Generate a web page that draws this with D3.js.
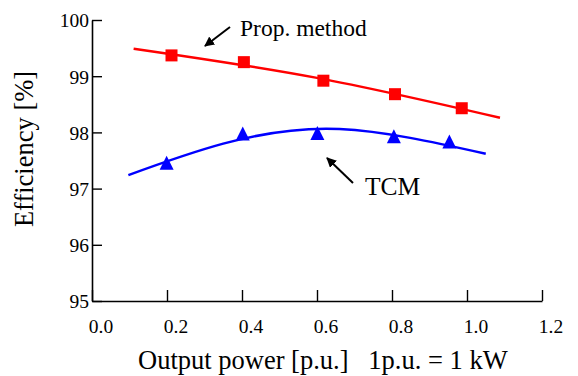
<!DOCTYPE html>
<html>
<head>
<meta charset="utf-8">
<script src="https://cdn.jsdelivr.net/npm/d3@7"></script>
<style>
  html, body { margin: 0; padding: 0; background: #fff; }
  svg { display: block; }
  text { font-family: "Liberation Serif", "Times New Roman", serif !important; fill: #000; white-space: pre; }
</style>
</head>
<body>
<svg id="chart" width="578" height="376"></svg>
<script>
// ---- data ----
const xTicks = [0.0, 0.2, 0.4, 0.6, 0.8, 1.0, 1.2];
const yTicks = [95, 96, 97, 98, 99, 100];

// Proposed method: measured points (squares)
const propX = [0.212, 0.405, 0.617, 0.808, 0.986];
const propY = [99.37, 99.25, 98.92, 98.68, 98.43];
// Proposed method: fitted curve (read at a few positions)
const propFitX = [0.111, 0.6, 1.088];
const propFitY = [99.49, 98.97, 98.26];

// TCM: measured points (triangles)
const tcmX = [0.199, 0.402, 0.601, 0.805, 0.953];
const tcmY = [97.46, 97.98, 97.99, 97.93, 97.84];
// TCM: fitted curve (read at a few positions)
const tcmFitX = [0.097, 0.35, 0.66, 1.05];
const tcmFitY = [97.24, 97.80, 98.06, 97.62];

const xLabel = "Output power [p.u.]   1p.u. = 1 kW";
const yLabel = "Efficiency [%]";
const propLabel = "Prop. method";
const tcmLabel = "TCM";

// ---- drawing ----
const svg = d3.select("#chart");
const x = d3.scaleLinear().domain([0, 1.2]).range([92, 542]);
const y = d3.scaleLinear().domain([95, 100]).range([301, 20]);

// axes
const xAxis = d3.axisBottom(x).tickValues(xTicks).tickSize(-11).tickFormat(d3.format(".1f")).tickSizeOuter(0);
const yAxis = d3.axisLeft(y).tickValues(yTicks).tickSize(-10).tickFormat(d3.format("d")).tickSizeOuter(0);

const gx = svg.append("g").attr("transform", `translate(0,${y(95)})`).call(xAxis);
const gy = svg.append("g").attr("transform", `translate(${x(0)},0)`).call(yAxis);

[gx, gy].forEach(g => {
  g.attr("font-family", null);
  g.select(".domain").attr("stroke", "#000").attr("stroke-width", 1.6);
  g.selectAll(".tick line").attr("stroke", "#000").attr("stroke-width", 1.4);
  g.selectAll(".tick text").attr("font-size", 19.5).attr("fill", "#000");
});
gx.selectAll(".tick text").attr("dy", null).attr("y", 32).attr("dx", 8.5);
gy.selectAll(".tick text").attr("x", -3).attr("dy", "0.35em");

// lines
const line = d3.line().x(d => x(d[0])).y(d => y(d[1])).curve(d3.curveNatural);
svg.append("path")
  .datum(propFitX.map((v, i) => [v, propFitY[i]]))
  .attr("d", line).attr("fill", "none").attr("stroke", "#ff0000").attr("stroke-width", 2.5);
svg.append("path")
  .datum(tcmFitX.map((v, i) => [v, tcmFitY[i]]))
  .attr("d", line).attr("fill", "none").attr("stroke", "#0000ff").attr("stroke-width", 2.5);

// markers
const sq = 12;
svg.selectAll(".sq").data(propX.map((v, i) => [v, propY[i]])).enter().append("rect")
  .attr("x", d => x(d[0]) - sq / 2).attr("y", d => y(d[1]) - sq / 2)
  .attr("width", sq).attr("height", sq).attr("fill", "#ff0000");

const tw = 14, th = 14;
svg.selectAll(".tri").data(tcmX.map((v, i) => [v, tcmY[i]])).enter().append("path")
  .attr("d", d => {
    const cx = x(d[0]), cy = y(d[1]);
    return `M${cx},${cy - th / 2}L${cx + tw / 2},${cy + th / 2}L${cx - tw / 2},${cy + th / 2}Z`;
  })
  .attr("fill", "#0000ff");

// arrow marker
svg.append("defs").append("marker")
  .attr("id", "ah").attr("viewBox", "0 0 10 10").attr("refX", 9).attr("refY", 5)
  .attr("markerWidth", 10).attr("markerHeight", 10).attr("markerUnits", "userSpaceOnUse")
  .attr("orient", "auto")
  .append("path").attr("d", "M0,0L10,5L0,10Z").attr("fill", "#000");

svg.append("line").attr("x1", 230).attr("y1", 27).attr("x2", 205).attr("y2", 46)
  .attr("stroke", "#000").attr("stroke-width", 2).attr("marker-end", "url(#ah)");
svg.append("line").attr("x1", 353).attr("y1", 183).attr("x2", 327).attr("y2", 158)
  .attr("stroke", "#000").attr("stroke-width", 2).attr("marker-end", "url(#ah)");

svg.append("text").attr("x", 240).attr("y", 36).attr("font-size", 23.5).text(propLabel);
svg.append("text").attr("x", 365).attr("y", 195).attr("font-size", 25.5).text(tcmLabel);

// axis titles
svg.append("text").attr("x", 138).attr("y", 369).attr("font-size", 26.5).text(xLabel);
svg.append("text").attr("transform", "translate(33,149) rotate(-90)")
  .attr("text-anchor", "middle").attr("font-size", 26.5).text(yLabel);
</script>
</body>
</html>
